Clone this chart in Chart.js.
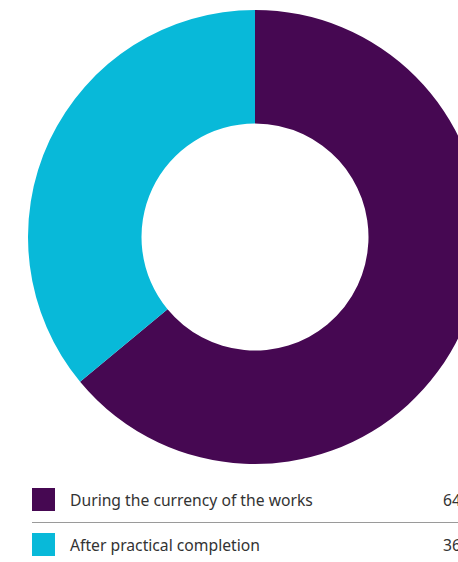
<!DOCTYPE html>
<html lang="en">

<head>
  <meta charset="UTF-8">
  <meta name="viewport" content="width=device-width, initial-scale=1.0">
  <title>Timing of claims</title>
  <script src="https://cdn.jsdelivr.net/npm/chart.js"></script>
  <style>
    html, body {
      margin: 0;
      padding: 0;
      width: 458px;
      height: 562px;
      overflow: hidden;
      background: #fff;
      font-family: "Noto Sans", sans-serif;
    }
    #grafico {
      position: absolute;
      left: 0;
      top: 0;
      width: 510px;
      height: 474px;
    }
    #legenda {
      position: absolute;
      left: 32px;
      top: 488px;
      width: 460px;
    }
    .item {
      position: relative;
      height: 23px;
      color: #333;
      font-size: 15.7px;
      line-height: 23px;
    }
    .item + .item {
      margin-top: 22px;
    }
    .item .cor {
      position: absolute;
      left: 0;
      top: 0;
      width: 23px;
      height: 23px;
    }
    .item .nome {
      position: absolute;
      left: 38px;
      top: 1px;
    }
    .item .valor {
      position: absolute;
      left: 411px;
      top: 1px;
    }
    .linha {
      position: absolute;
      left: 0;
      top: 34px;
      width: 460px;
      height: 1px;
      background: #9a9a9a;
    }
  </style>
</head>

<body>
  <div id="grafico">
    <canvas id="meuGrafico" width="510" height="474"></canvas>
  </div>
  <div id="legenda"></div>

  <script>
    // dados do gráfico
    var categorias = ['During the currency of the works', 'After practical completion'];
    var valores = [64, 36];
    var cores = ['rgb(70, 8, 82)', 'rgb(8, 185, 217)'];

    var ctx = document.getElementById('meuGrafico').getContext('2d');
    var myChart = new Chart(ctx, {
      type: 'doughnut',
      data: {
        labels: categorias,
        datasets: [{
          data: valores,
          backgroundColor: cores,
          borderWidth: 0
        }]
      },
      options: {
        responsive: false,
        animation: false,
        cutout: '50%',
        layout: {
          padding: { top: 10, bottom: 10 }
        },
        plugins: {
          legend: { display: false },
          tooltip: { enabled: false }
        }
      }
    });

    // legenda montada a partir dos mesmos arrays
    var legenda = document.getElementById('legenda');
    categorias.forEach(function (nome, i) {
      var item = document.createElement('div');
      item.className = 'item';
      item.innerHTML = '<span class="cor" style="background:' + cores[i] + '"></span>' +
        '<span class="nome">' + nome + '</span>' +
        '<span class="valor">' + valores[i] + '</span>';
      legenda.appendChild(item);
    });
    var linha = document.createElement('div');
    linha.className = 'linha';
    legenda.appendChild(linha);
  </script>
</body>

</html>
